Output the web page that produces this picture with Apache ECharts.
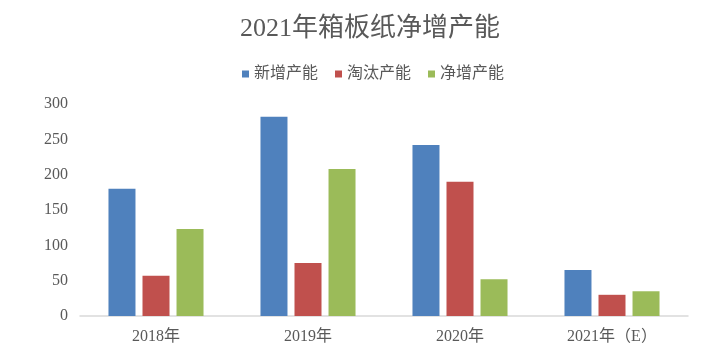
<!DOCTYPE html>
<html><head><meta charset="utf-8">
<script src="https://cdn.jsdelivr.net/npm/echarts@6/dist/echarts.min.js"></script>
<style>html,body{margin:0;padding:0;background:#fff}#c{width:711px;height:362px}</style>
</head><body><div id="c"></div>
<script>
const categories = ['2018年', '2019年', '2020年', '2021年（E）'];
const seriesNames = ['新增产能', '淘汰产能', '净增产能'];
const newCapacity = [180, 282, 242, 65];
const retiredCapacity = [57, 75, 190, 30];
const netCapacity = [123, 208, 52, 35];
const yTicks = [0, 50, 100, 150, 200, 250, 300];
const colors = ['#4F81BD', '#C0504D', '#9BBB59'];
const FONT = '"Liberation Serif", "Noto Sans CJK SC", serif';

const chart = echarts.init(document.getElementById('c'));
const values = [newCapacity, retiredCapacity, netCapacity];
chart.setOption({
  animation: false,
  color: colors,
  title: {
    text: '2021年箱板纸净增产能',
    left: 235, top: 11,
    textStyle: {fontFamily: FONT, fontSize: 26, fontWeight: 'normal', color: '#595959'}
  },
  legend: {
    top: 61, left: 237,
    itemWidth: 7, itemHeight: 7, itemGap: 17,
    icon: 'rect',
    textStyle: {fontFamily: FONT, fontSize: 16, color: '#595959'},
    data: seriesNames
  },
  grid: {left: 80, right: 23, top: 104, bottom: 46},
  xAxis: {
    type: 'category', data: categories,
    axisLine: {lineStyle: {color: '#D9D9D9', width: 1.5}},
    axisTick: {show: false},
    axisLabel: {fontFamily: FONT, fontSize: 16, color: '#595959', margin: 13}
  },
  yAxis: {
    type: 'value', min: yTicks[0], max: yTicks[yTicks.length - 1], interval: 50,
    axisLine: {show: false}, axisTick: {show: false},
    splitLine: {show: false},
    axisLabel: {fontFamily: FONT, fontSize: 16, color: '#595959', margin: 12}
  },
  series: seriesNames.map((n, i) => ({
    name: n, type: 'bar', data: values[i],
    barWidth: 27, barGap: '26%', barCategoryGap: '37%'
  }))
});
</script></body></html>
